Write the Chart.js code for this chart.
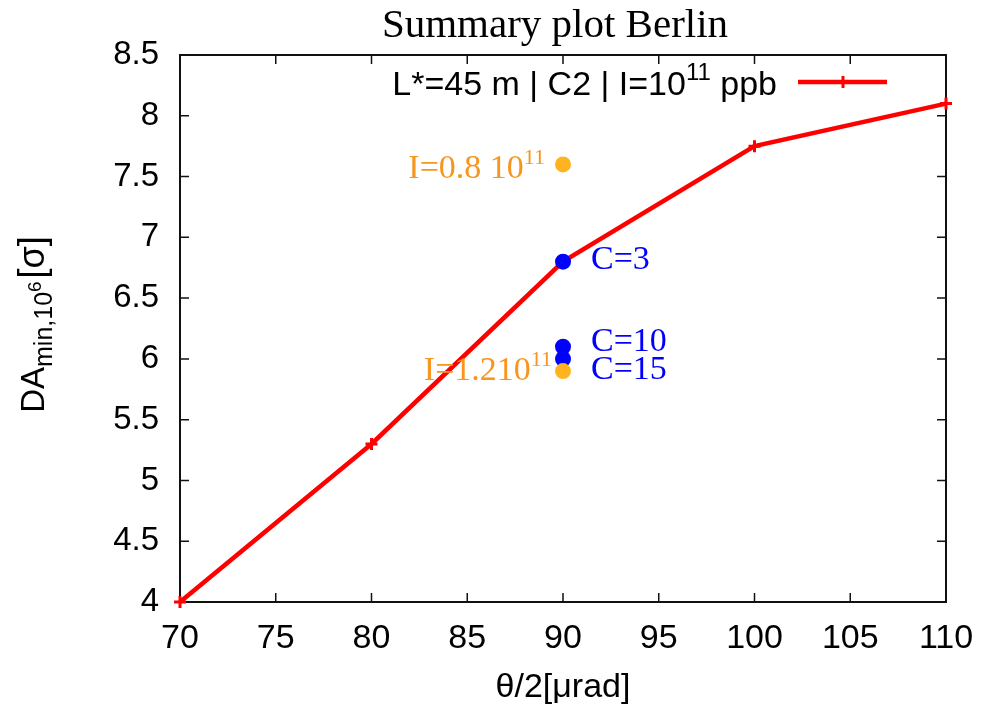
<!DOCTYPE html>
<html>
<head>
<meta charset="utf-8">
<title>Summary plot Berlin</title>
<script src="https://cdn.jsdelivr.net/npm/chart.js@4.4.1/dist/chart.umd.min.js"></script>
<style>
  html, body { margin: 0; padding: 0; background: #fff; }
  #wrap { width: 995px; height: 707px; }
</style>
</head>
<body>
<div id="wrap"><canvas id="summaryChart" width="995" height="707"></canvas></div>
<script>
// half crossing angle [urad] vs minimum DA (L*=45 m, C2, I=1e11 ppb)
const thetaHalf = [70, 80, 90, 100, 110];
const daMin = [4.0, 5.3, 6.8, 7.75, 8.1];

// chromaticity scan at 90 urad
const chromaX = [90, 90, 90];
const chromaDa = [6.8, 6.1, 6.0];
const chromaLabels = ['C=3', 'C=10', 'C=15'];

// intensity scan at 90 urad
const intensityX = [90, 90];
const intensityDa = [7.6, 5.9];
const intensityLabels = [['I=0.8 10', '11'], ['I=1.210', '11']];

const xTicks = [70, 75, 80, 85, 90, 95, 100, 105, 110];
const yTicks = [4, 4.5, 5, 5.5, 6, 6.5, 7, 7.5, 8, 8.5];

const SANS = '"Liberation Sans", Arial, sans-serif';
const SERIF = '"Liberation Serif", "DejaVu Serif", serif';
const ORANGE_DOT = '#ffb31f';
const ORANGE_TEXT = '#f7961e';
const BLUE = '#0000ff';
const RED = '#ff0000';

// draws a run of text pieces; each piece may be shifted up/down and sized on its own
function drawRich(ctx, parts, x, y, align) {
    let total = 0;
    parts.forEach(p => {
        ctx.font = p.font;
        p.w = ctx.measureText(p.t).width + (p.gap || 0);
        total += p.w;
    });
    let cx = x;
    if (align === 'right') cx = x - total;
    if (align === 'center') cx = x - total / 2;
    ctx.textAlign = 'left';
    ctx.textBaseline = 'alphabetic';
    parts.forEach(p => {
        ctx.font = p.font;
        ctx.fillText(p.t, cx, y + (p.dy || 0));
        cx += p.w;
    });
}

const frameAndText = {
    id: 'frameAndText',
    beforeDatasetsDraw(chart) {
        const ctx = chart.ctx;
        const area = chart.chartArea;
        const xs = chart.scales.x;
        const ys = chart.scales.y;
        const tick = 9;
        ctx.save();
        ctx.strokeStyle = '#111';
        ctx.lineWidth = 1.5;
        ctx.beginPath();
        xTicks.forEach(v => {
            const px = xs.getPixelForValue(v);
            ctx.moveTo(px, area.bottom); ctx.lineTo(px, area.bottom - tick);
            ctx.moveTo(px, area.top); ctx.lineTo(px, area.top + tick);
        });
        yTicks.forEach(v => {
            const py = ys.getPixelForValue(v);
            ctx.moveTo(area.left, py); ctx.lineTo(area.left + tick, py);
            ctx.moveTo(area.right, py); ctx.lineTo(area.right - tick, py);
        });
        ctx.stroke();
        ctx.lineWidth = 2;
        ctx.strokeRect(area.left, area.top, area.right - area.left, area.bottom - area.top);
        ctx.restore();
    },
    afterDraw(chart) {
        const ctx = chart.ctx;
        const area = chart.chartArea;
        const xs = chart.scales.x;
        const ys = chart.scales.y;
        ctx.save();

        // title
        ctx.fillStyle = '#000';
        ctx.font = '41px ' + SERIF;
        ctx.textAlign = 'center';
        ctx.textBaseline = 'alphabetic';
        ctx.fillText('Summary plot Berlin', 555, 37);

        // key
        const keyY = 82;
        ctx.fillStyle = '#000';
        drawRich(ctx, [
            { t: 'L*=45 m | C2 | I=10', font: '34px ' + SANS },
            { t: '11', font: '24px ' + SANS, dy: -15 },
            { t: ' ppb', font: '34px ' + SANS }
        ], 777, 95, 'right');
        ctx.strokeStyle = RED;
        ctx.lineWidth = 4.5;
        ctx.beginPath();
        ctx.moveTo(798, keyY); ctx.lineTo(887, keyY);
        ctx.stroke();
        ctx.lineWidth = 3;
        ctx.beginPath();
        ctx.moveTo(843, keyY - 6); ctx.lineTo(843, keyY + 6);
        ctx.stroke();

        // chromaticity labels
        const cNudge = [7, 4, 20];
        ctx.fillStyle = BLUE;
        chromaLabels.forEach((lab, i) => {
            const px = xs.getPixelForValue(chromaX[i]);
            const py = ys.getPixelForValue(chromaDa[i]);
            drawRich(ctx, [{ t: lab, font: '34px ' + SERIF }], px + 28, py + cNudge[i], 'left');
        });

        // intensity labels
        const iNudge = [[18, 14], [11, 9]];
        ctx.fillStyle = ORANGE_TEXT;
        intensityLabels.forEach((lab, i) => {
            const px = xs.getPixelForValue(intensityX[i]);
            const py = ys.getPixelForValue(intensityDa[i]);
            drawRich(ctx, [
                { t: lab[0], font: '34px ' + SERIF },
                { t: lab[1], font: '22px ' + SERIF, dy: -14 }
            ], px - iNudge[i][0], py + iNudge[i][1], 'right');
        });

        // axis titles
        ctx.fillStyle = '#000';
        drawRich(ctx, [{ t: '\u03b8/2[\u03bcrad]', font: '34px ' + SANS }],
            (area.left + area.right) / 2, 697, 'center');

        ctx.translate(44, (area.top + area.bottom) / 2 - 4);
        ctx.rotate(-Math.PI / 2);
        drawRich(ctx, [
            { t: 'DA', font: '33px ' + SANS },
            { t: 'min,10', font: '25px ' + SANS, dy: 8 },
            { t: '6', font: '19px ' + SANS, dy: -3, gap: 3 },
            { t: '[\u03c3]', font: '36px ' + SANS }
        ], 0, 0, 'center');

        ctx.restore();
    }
};

new Chart(document.getElementById('summaryChart'), {
    type: 'scatter',
    data: {
        datasets: [
            {
                label: 'intensity',
                data: intensityX.map((x, i) => ({ x: x, y: intensityDa[i] })),
                backgroundColor: ORANGE_DOT,
                borderWidth: 0,
                pointRadius: 8,
                order: 0
            },
            {
                label: 'chromaticity',
                data: chromaX.map((x, i) => ({ x: x, y: chromaDa[i] })),
                backgroundColor: BLUE,
                borderWidth: 0,
                pointRadius: 8,
                order: 1
            },
            {
                label: 'L*=45 m | C2 | I=1e11 ppb',
                type: 'line',
                showLine: true,
                data: thetaHalf.map((x, i) => ({ x: x, y: daMin[i] })),
                borderColor: RED,
                borderWidth: 4.5,
                pointStyle: 'cross',
                pointRadius: 6,
                pointBorderWidth: 3,
                pointBorderColor: RED,
                tension: 0,
                clip: false,
                order: 2
            }
        ]
    },
    options: {
        responsive: false,
        animation: false,
        events: [],
        layout: { padding: { left: 0, right: 49, top: 55, bottom: 0 } },
        plugins: {
            legend: { display: false },
            tooltip: { enabled: false },
            title: { display: false }
        },
        scales: {
            x: {
                type: 'linear',
                min: 70,
                max: 110,
                border: { display: false },
                grid: { display: false, drawTicks: false },
                afterBuildTicks: s => { s.ticks = xTicks.map(v => ({ value: v })); },
                afterFit: s => { s.height = 105; },
                ticks: {
                    color: '#000',
                    font: { family: SANS, size: 34 },
                    padding: 16,
                    maxRotation: 0,
                    callback: v => String(v)
                }
            },
            y: {
                type: 'linear',
                min: 4,
                max: 8.5,
                border: { display: false },
                grid: { display: false, drawTicks: false },
                afterBuildTicks: s => { s.ticks = yTicks.map(v => ({ value: v })); },
                afterFit: s => { s.width = 180; },
                ticks: {
                    color: '#000',
                    font: { family: SANS, size: 33 },
                    padding: 21,
                    callback: v => String(v)
                }
            }
        }
    },
    plugins: [frameAndText]
});
</script>
</body>
</html>
